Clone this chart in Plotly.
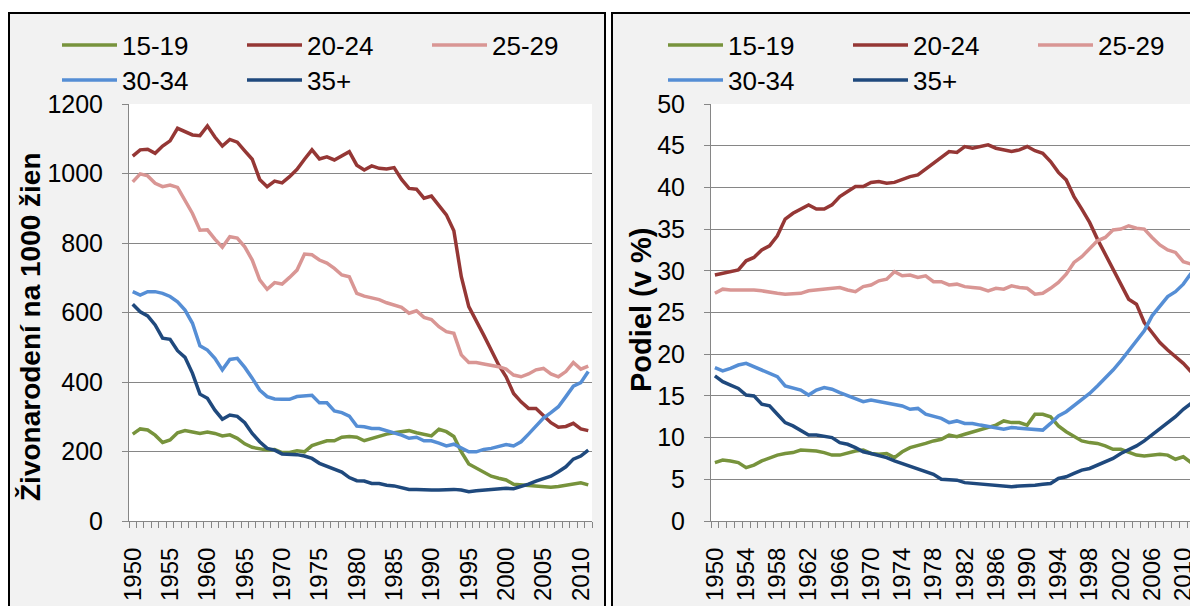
import plotly.graph_objects as go

years = list(range(1950, 2012))
series_names = ["15-19", "20-24", "25-29", "30-34", "35+"]
colors = ["#77933c", "#953735", "#d99694", "#558ed5", "#1f497d"]

# Left panel: live births per 1000 women
rate_15_19 = [250,265,262,247,226,233,254,260,256,252,
              256,252,245,248,238,222,212,208,204,206,
              197,197,202,199,217,224,231,231,241,243,
              241,231,238,245,250,254,257,260,254,250,
              245,264,257,243,199,164,152,139,129,123,
              118,106,104,101,99,97,97,99,103,106,110,104]
rate_20_24 = [1050,1068,1070,1058,1079,1094,1130,1120,1111,1109,
              1137,1105,1079,1098,1090,1065,1041,983,962,978,
              973,991,1012,1041,1068,1042,1048,1039,1050,1063,
              1024,1010,1022,1015,1013,1017,983,957,955,929,
              935,909,881,835,703,617,578,535,492,449,
              415,367,343,324,324,305,283,270,272,281,265,260]
rate_25_29 = [976,999,993,972,962,967,960,924,885,837,
              838,811,788,818,814,789,751,694,667,686,
              682,701,722,768,766,751,742,727,708,703,
              655,647,641,637,628,622,615,598,605,586,
              580,559,545,540,478,456,456,452,449,444,
              437,420,415,423,435,439,423,415,430,456,437,446]
rate_30_34 = [660,650,660,660,655,646,631,607,569,504,
              492,468,435,465,468,442,411,377,358,351,
              350,350,358,361,362,340,340,317,312,302,
              273,271,266,266,260,255,247,238,241,231,
              231,224,216,221,209,199,199,206,209,214,
              220,216,228,250,273,296,312,329,358,388,398,430]
rate_35p = [624,602,590,564,526,523,490,471,425,365,
            353,319,293,305,301,283,252,228,209,204,
            193,192,191,187,180,166,158,149,141,125,
            116,115,108,108,103,101,95,91,91,89,
            89,89,91,91,89,84,87,89,89,91,
            94,93,99,106,115,123,129,142,156,178,187,204]

# Right panel: share (%)
share_15_19 = [7.0,7.3,7.2,7.0,6.4,6.7,7.2,7.6,7.9,8.1,
               8.2,8.5,8.5,8.4,8.2,7.9,7.9,8.2,8.4,8.5,
               8.1,8.0,8.1,7.6,8.3,8.8,9.0,9.3,9.6,9.8,
               10.3,10.1,10.4,10.7,11.0,11.3,11.5,12.0,11.8,11.8,
               11.5,12.8,12.8,12.5,11.4,10.7,10.2,9.6,9.4,9.3,
               9.0,8.6,8.6,8.2,7.9,7.8,7.9,8.0,7.9,7.4,7.7,7.0]
share_20_24 = [29.5,29.7,29.9,30.1,31.2,31.6,32.5,33.0,34.2,36.2,
               36.9,37.4,37.9,37.4,37.4,37.9,38.9,39.5,40.1,40.1,
               40.6,40.7,40.5,40.6,41.0,41.3,41.5,42.2,42.8,43.5,
               44.3,44.2,44.9,44.7,44.9,45.1,44.7,44.5,44.3,44.5,
               44.9,44.4,44.1,43.1,41.8,40.9,38.9,37.4,35.8,33.8,
               32.0,30.0,28.2,26.6,26.0,23.8,22.6,21.4,20.5,19.7,18.9,17.9]
share_25_29 = [27.3,27.8,27.7,27.7,27.8,27.7,27.6,27.4,27.3,27.2,
               27.2,27.3,27.6,27.7,27.9,28.0,28.0,27.7,27.5,28.1,
               28.3,28.8,29.0,29.9,29.4,29.5,29.2,29.4,28.7,28.7,
               28.3,28.4,28.1,28.0,27.9,27.6,27.9,27.8,28.2,28.0,
               27.9,27.2,27.3,27.9,28.6,29.6,31.0,31.7,32.6,33.6,
               34.0,34.9,35.0,35.4,35.1,35.0,34.0,33.1,32.5,32.2,31.1,30.8]
share_30_34 = [18.4,18.0,18.3,18.7,18.9,18.5,18.1,17.8,17.3,16.2,
               15.9,15.7,15.1,15.7,16.0,15.8,15.4,15.0,14.7,14.3,
               14.5,14.3,14.2,14.0,13.8,13.4,13.5,12.8,12.6,12.3,
               11.8,12.0,11.7,11.7,11.5,11.3,11.2,11.0,11.2,11.1,
               11.1,10.9,10.9,11.7,12.6,13.1,13.8,14.5,15.3,16.2,
               17.1,18.1,19.2,20.4,21.5,22.8,24.6,25.7,26.9,27.5,28.4,29.7]
share_35p = [17.4,16.7,16.3,15.9,15.1,15.0,14.0,13.8,12.8,11.8,
             11.4,10.8,10.3,10.3,10.2,10.0,9.4,9.2,8.8,8.3,
             8.1,7.9,7.6,7.2,6.9,6.5,6.2,5.9,5.6,5.0,
             4.9,4.9,4.6,4.5,4.4,4.3,4.2,4.2,4.1,4.2,
             4.2,4.3,4.4,4.5,5.1,5.3,5.7,6.1,6.3,6.7,
             7.2,7.5,8.1,8.5,9.0,9.6,10.3,11.0,11.7,12.5,13.4,14.1]

left_ticks = list(range(1950, 2011, 5))
right_ticks = list(range(1950, 2011, 4))

# page is offset by the 8px body margin; figure sized to fit the window
OFF = 8
FW, FH = 1190, 598
def px(x):
    return (x - OFF) / FW
def py(y):
    return 1 - (y - OFF) / FH

FONT = "Liberation Sans, Arial, sans-serif"
GRID = "#868686"

fig = go.Figure()
left_data = [rate_15_19, rate_20_24, rate_25_29, rate_30_34, rate_35p]
right_data = [share_15_19, share_20_24, share_25_29, share_30_34, share_35p]
# legend rows: first three series on row 1, last two on row 2
left_legs = ["legend", "legend", "legend", "legend2", "legend2"]
right_legs = ["legend3", "legend3", "legend3", "legend4", "legend4"]
for name, col, vals, lg in zip(series_names, colors, left_data, left_legs):
    fig.add_trace(go.Scatter(x=years, y=vals, name=name, mode="lines",
                             line=dict(color=col, width=3.5), xaxis="x", yaxis="y",
                             legend=lg))
for name, col, vals, lg in zip(series_names, colors, right_data, right_legs):
    fig.add_trace(go.Scatter(x=years, y=vals, name=name, mode="lines",
                             line=dict(color=col, width=3.5), xaxis="x2", yaxis="y2",
                             legend=lg))

ydom = [py(521), py(104)]

def xax(domain, ticks, anchor):
    return dict(domain=domain, range=[1949.5, 2011.5], tickmode="array", anchor=anchor,
                tickvals=ticks, ticktext=[str(t) for t in ticks], tickangle=-90,
                ticks="outside", ticklen=16, tickcolor="rgba(0,0,0,0)",
                showgrid=False, showline=True, linecolor=GRID, linewidth=1,
                zeroline=False, automargin=False,
                tickfont=dict(size=24, color="black", family=FONT),
                minor=dict(tick0=1949.5, dtick=1, ticks="outside", ticklen=6,
                           tickcolor=GRID, tickwidth=1, showgrid=False))

def yax(domain, rng, dtick, anchor):
    return dict(domain=domain, range=rng, dtick=dtick, anchor=anchor,
                showgrid=True, gridcolor=GRID, gridwidth=1, showline=True,
                linecolor=GRID, linewidth=1, ticks="outside", ticklen=6,
                tickcolor=GRID, zeroline=False, ticklabelstandoff=14, automargin=False,
                tickfont=dict(size=25, color="black", family=FONT))

shapes = [
    dict(type="rect", xref="paper", yref="paper", x0=px(9), x1=px(605), y0=py(660), y1=py(13),
         fillcolor="#f2f2f2", line=dict(color="black", width=2), layer="below"),
    dict(type="rect", xref="paper", yref="paper", x0=px(612), x1=px(1250), y0=py(660), y1=py(13),
         fillcolor="#f2f2f2", line=dict(color="black", width=2), layer="below"),
    dict(type="rect", xref="x domain", yref="y domain", x0=0, x1=1, y0=0, y1=1,
         fillcolor="white", line=dict(width=0), layer="below"),
    dict(type="rect", xref="x2 domain", yref="y2 domain", x0=0, x1=1, y0=0, y1=1,
         fillcolor="white", line=dict(width=0), layer="below"),
]

annotations = [
    dict(text="<b>Živonarodení na 1000 žien</b>", textangle=-90, xref="paper", yref="paper",
         x=px(30), y=py(327), xanchor="center", yanchor="middle", showarrow=False,
         font=dict(size=28, color="black", family=FONT)),
    dict(text="<b>Podiel (v %)</b>", textangle=-90, xref="paper", yref="paper",
         x=px(641), y=py(310), xanchor="center", yanchor="middle", showarrow=False,
         font=dict(size=29, color="black", family=FONT)),
]

def leg(x, y):
    return dict(orientation="h", x=px(x), y=py(y), xanchor="left", yanchor="middle",
                entrywidth=115, entrywidthmode="pixels", itemwidth=55,
                font=dict(size=26, color="black", family=FONT),
                bgcolor="rgba(0,0,0,0)", tracegroupgap=0)

fig.update_layout(
    width=FW, height=FH, margin=dict(l=0, r=0, t=0, b=0, autoexpand=False),
    paper_bgcolor="white", plot_bgcolor="white",
    font=dict(family=FONT, color="black"),
    xaxis=xax([px(129), px(592)], left_ticks, "y"),
    yaxis=yax(ydom, [0, 1200], 200, "x"),
    xaxis2=xax([px(711), px(1195)], right_ticks, "y2"),
    yaxis2=yax(ydom, [0, 50], 5, "x2"),
    legend=leg(57, 45),
    legend2=leg(57, 80),
    legend3=leg(663, 45),
    legend4=leg(663, 80),
    shapes=shapes,
    annotations=annotations,
)

fig.write_html("out.html")
